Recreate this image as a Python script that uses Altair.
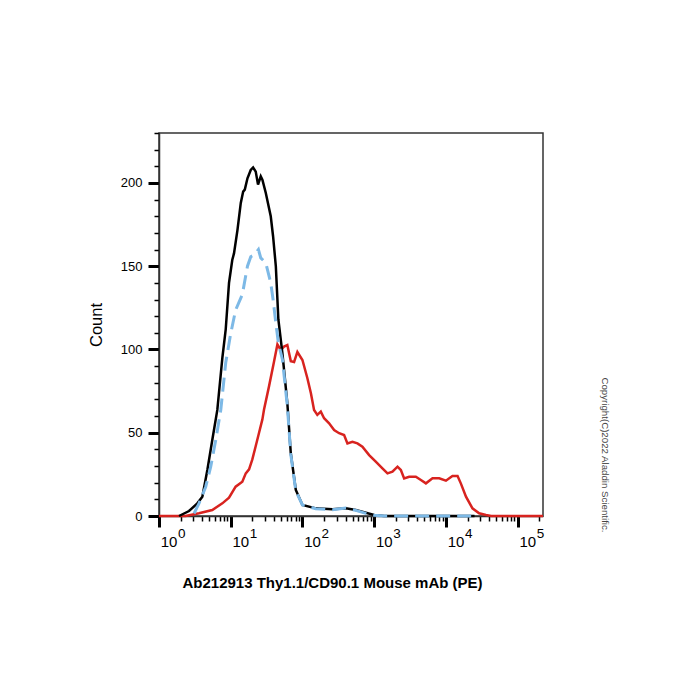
import altair as alt
import pandas as pd

# ---- data ----
black_x = [1.9, 2.62, 3.42, 4.02, 4.72, 5.53, 6.50, 7.64, 8.51, 9.46, 10.5, 11.1, 12.4, 13.8, 14.9,
           15.7, 17.1, 19.0, 20.5, 22.3, 24.0, 26.2, 27.6, 30.8, 36.1, 38.9, 42.5, 46.1, 52.5, 61.5,
           68.7, 80.7, 99.8, 153, 261, 402, 553, 764, 998, 1380, 25000]
black_y = [0, 3, 7.6, 11.6, 27.6, 45.6, 63.7, 95, 112, 140, 153.7, 157.7, 171.7, 188, 194.8,
           196, 202.8, 207.8, 209.3, 206.8, 199, 204, 202, 194, 180, 168, 150, 118, 97.7, 67.7,
           37.6, 15.6, 6.6, 4.6, 4.0, 4.6, 3.6, 2.0, 0.6, 0, 0]

blue_x = [3.08, 3.61, 4.48, 5.26, 6.18, 7.26, 8.51, 10.0, 11.7, 14.5, 17.1, 19.0, 21.1, 24.3, 26.2,
          30.8, 36.1, 38.9, 42.5, 46.1, 52.5, 61.5, 68.7, 80.7, 99.8, 153, 261, 402, 553, 764,
          1000, 1380, 25000]
blue_y = [1.5, 7.6, 17.6, 29.6, 45.6, 63.7, 92, 109.7, 123.7, 133, 150, 155.7, 156.7, 160, 155,
          152, 140, 130, 116, 104, 94, 66, 37, 15, 6.6, 4.4, 3.8, 4.8, 3.4, 1.6,
          0.4, 0, 0]

red_x = [1.0, 2.35, 3.61, 5.53, 7.64, 9.46, 11.7, 14.5, 16.2, 18.0, 20.0, 22.3, 24.8, 27.6, 29.1,
         34.2, 40.2, 44.7, 49.8, 55.3, 61.5, 68.7, 76.4, 84.9, 99.8, 117, 131, 145, 161, 180,
         200, 235, 276, 324, 380, 423, 497, 583, 684, 849, 1050, 1300, 1530, 1795, 2110,
         2350, 2610, 3070, 3800, 4470, 5250, 6490, 8040, 9980, 12300, 14500, 16100, 19000, 23400, 29000,
         36100, 42700, 225000]
red_y = [0, 0, 1.6, 3.6, 7.6, 11, 17.6, 20.6, 25.6, 28, 34, 42, 50, 58, 64,
         78, 93, 103, 99.7, 101.7, 102.7, 93, 92.5, 98.5, 93.7, 82.7, 73.7, 63.7, 60.7, 62.7,
         58.7, 55.7, 51.6, 49.7, 48.6, 43.6, 44.6, 43.6, 41.6, 36.6, 32.6, 28.6, 25.6, 26.6, 29.6,
         27.6, 22.6, 23.6, 23.6, 21.6, 19.6, 22.6, 22.6, 21.2, 24, 24, 19.6, 11.6, 4.6, 1.6,
         0.6, 0, 0]

x_major = [1, 10, 100, 1000, 10000, 100000]
x_exponents = ["0", "1", "2", "3", "4", "5"]
x_ticks = [1, 2, 3, 4, 5, 6, 7, 8, 9,
           10, 20, 30, 40, 50, 60, 70, 80, 90,
           100, 200, 300, 400, 500, 600, 700, 800, 900,
           1000, 2000, 3000, 4000, 5000, 6000, 7000, 8000, 9000,
           10000, 20000, 30000, 40000, 50000, 60000, 70000, 80000, 90000,
           100000, 200000]
y_ticks = list(range(0, 231, 10))

x_title = "Ab212913 Thy1.1/CD90.1 Mouse mAb (PE)"
y_title = "Count"
copyright_text = "Copyright(C)2022 Aladdin Scientific."

# ---- chart ----
W, H = 384, 383
xscale = alt.Scale(type="log", domain=[1, 225000], nice=False)
yscale = alt.Scale(domain=[0, 230], nice=False)

major_test = "indexof([1,10,100,1000,10000,100000], datum.value) >= 0"
xaxis = alt.Axis(
    values=x_ticks, labels=False, grid=False,
    tickSize={"condition": {"test": major_test, "value": 11}, "value": 5},
    tickWidth={"condition": {"test": major_test, "value": 3}, "value": 1.5},
    tickColor="#000", domainColor="#333", domainWidth=1.5,
    title=x_title, titleFontSize=15, titleFontWeight="bold", titleColor="#000",
    titleX=173, titleY=71, titleAlign="center", titleBaseline="alphabetic",
)
yaxis = alt.Axis(
    values=y_ticks, grid=False,
    labelExpr="datum.value % 50 === 0 ? datum.label : ''",
    tickSize={"condition": {"test": "datum.value % 50 === 0", "value": 11}, "value": 5},
    tickWidth={"condition": {"test": "datum.value % 50 === 0", "value": 3}, "value": 1.5},
    tickColor="#000", domainColor="#333", domainWidth=1.5,
    labelFontSize=13, labelColor="#000", labelPadding=6,
    title=y_title, titleFontSize=16.5, titleFontWeight="normal", titleColor="#000", titlePadding=16,
)

def series(xs, ys):
    return pd.DataFrame({"x": xs, "y": ys})

X = alt.X("x:Q", scale=xscale, axis=xaxis)
Y = alt.Y("y:Q", scale=yscale, axis=yaxis)

red = alt.Chart(series(red_x, red_y)).mark_line(color="#d8231f", strokeWidth=2.5).encode(x=X, y=Y)
black = alt.Chart(series(black_x, black_y)).mark_line(color="#000000", strokeWidth=2.5).encode(x=X, y=Y)
blue = alt.Chart(series(blue_x, blue_y)).mark_line(
    color="#7db9e6", strokeWidth=3, strokeDash=[14, 7]).encode(x=X, y=Y)

lab_df = pd.DataFrame({"x": x_major, "base": ["10"] * len(x_major), "exp": x_exponents})
base_labels = alt.Chart(lab_df).mark_text(
    fontSize=15, align="center", baseline="alphabetic", dx=10, color="#000"
).encode(x=X, y=alt.value(H + 31), text="base:N")
exp_labels = alt.Chart(lab_df).mark_text(
    fontSize=13.5, align="left", baseline="alphabetic", dx=19, color="#000"
).encode(x=X, y=alt.value(H + 22), text="exp:N")

copy = alt.Chart(pd.DataFrame({"t": [copyright_text]})).mark_text(
    angle=90, fontSize=9.7, color="#444", align="center", baseline="middle"
).encode(x=alt.value(446), y=alt.value(322), text="t:N")

chart = alt.layer(red, black, blue, base_labels, exp_labels, copy).properties(
    width=W, height=H,
    autosize=alt.AutoSizeParams(type="none"),
    padding={"left": 159, "top": 133, "right": 157, "bottom": 184},
).configure(font="Liberation Sans").configure_view(stroke="#333", strokeWidth=1.5)

chart.save("out.html", embed_options={"renderer": "svg", "actions": False})
